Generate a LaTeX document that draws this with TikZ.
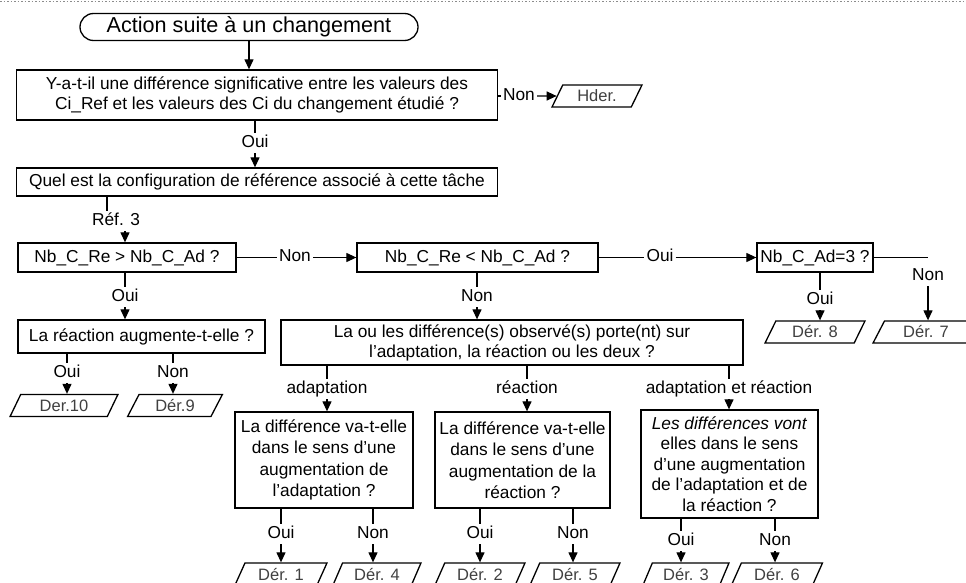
\documentclass[tikz,border=0pt]{standalone}
\usepackage{fontspec}
\setmainfont{Liberation Sans}
\usetikzlibrary{shapes.geometric,arrows.meta}
\begin{document}
\begin{tikzpicture}[x=1pt,y=-1pt,
  box/.style={draw, line width=1.3pt, inner sep=0pt, align=center, font=\fontsize{17.3}{20}\selectfont},
  lbl/.style={inner sep=2pt, text height=12.5pt, text depth=3.7pt, font=\fontsize{17.3}{20}\selectfont},
  outp/.style={draw, trapezium, trapezium left angle=63, trapezium right angle=117, trapezium stretches=true, line width=1.3pt, inner sep=0pt, minimum height=22pt, font=\fontsize{16.5}{18}\selectfont, text=black!75},
  ln/.style={line width=1.2pt},
  arr/.style={line width=1.2pt, -{Triangle[length=10pt,width=9pt]}}]
\useasboundingbox (0,0) rectangle (966,583);
\draw[black!45, dotted, line width=1.5pt] (0,1.5) -- (966,1.5);

% nodes
\node[draw, rounded corners=13.5pt, line width=1.3pt, minimum width=338pt, minimum height=27pt, inner sep=0pt, font=\fontsize{21.6}{24}\selectfont] (start) at (249,27) {Action suite à un changement};
\node[box, minimum width=481pt, minimum height=50pt] (b1) at (257,95) {Y-a-t-il une différence significative entre les valeurs des\\Ci\_Ref et les valeurs des Ci du changement étudié ?};
\node[lbl] (nonh) at (519,96) {Non};
\node[outp, minimum width=90pt] (hder) at (597,96) {Hder.};
\node[lbl] (oui1) at (255,143) {Oui};
\node[box, minimum width=481pt, minimum height=28pt] (b2) at (257,182) {Quel est la configuration de référence associé à cette tâche};
\node[lbl] (ref) at (116,221) {Réf. 3};
\node[box, minimum width=218pt, minimum height=29pt] (nb1) at (127,257.5) {Nb\_C\_Re > Nb\_C\_Ad ?};
\node[lbl] (non2) at (295,257.5) {Non};
\node[box, minimum width=241pt, minimum height=29pt] (nb2) at (477.5,257.5) {Nb\_C\_Re < Nb\_C\_Ad ?};
\node[lbl] (oui3) at (660,257.5) {Oui};
\node[box, minimum width=116pt, minimum height=29pt] (nb3) at (815,257.5) {Nb\_C\_Ad=3 ?};
\coordinate (c7) at (928,257.5);
\node[lbl] (non4) at (928,276) {Non};
\node[outp, minimum width=106pt] (der7) at (926,332) {Dér. 7};
\node[lbl] (oui5) at (820,300) {Oui};
\node[outp, minimum width=100pt] (der8) at (815,332) {Dér. 8};
\node[lbl] (oui6) at (125,297) {Oui};
\node[box, minimum width=247pt, minimum height=33pt] (reac) at (141.5,336.5) {La réaction augmente-t-elle ?};
\node[lbl] (non7) at (477,297) {Non};
\node[box, minimum width=462pt, minimum height=45pt] (laou) at (512,342.5) {La ou les différence(s) observé(s) porte(nt) sur\\l'adaptation, la réaction ou les deux ?};
\node[lbl] (oui8) at (67,373) {Oui};
\node[lbl] (non9) at (173,373) {Non};
\node[outp, minimum width=108pt] (der10) at (64,405.5) {Der.10};
\node[outp, minimum width=95pt] (der9) at (175,405.5) {Dér.9};
\node[lbl] (la) at (327,389) {adaptation};
\node[lbl] (lb) at (527,389) {réaction};
\node[lbl] (lc) at (729,389) {adaptation et réaction};
\node[box, minimum width=178pt, minimum height=96pt, font=\fontsize{17.3}{21.5}\selectfont] (bxa) at (324,460) {La différence va-t-elle\\dans le sens d'une\\augmentation de\\l'adaptation ?};
\node[box, minimum width=175pt, minimum height=96pt, font=\fontsize{17.3}{21.5}\selectfont] (bxb) at (522.5,460) {La différence va-t-elle\\dans le sens d'une\\augmentation de la\\réaction ?};
\node[box, minimum width=177pt, minimum height=108pt, font=\fontsize{17.3}{20.5}\selectfont] (bxc) at (729.5,464) {\textit{Les différences vont}\\elles dans le sens\\d'une augmentation\\de l'adaptation et de\\la réaction ?};
\node[lbl] (ouia) at (281,534) {Oui};
\node[lbl] (nona) at (373,534) {Non};
\node[lbl] (ouib) at (480,534) {Oui};
\node[lbl] (nonb) at (573,534) {Non};
\node[lbl] (ouic) at (681,541) {Oui};
\node[lbl] (nonc) at (775,541) {Non};
\node[outp, minimum width=92pt] (der1) at (281,574) {Dér. 1};
\node[outp, minimum width=88pt] (der4) at (377,574) {Dér. 4};
\node[outp, minimum width=90pt] (der2) at (480,574) {Dér. 2};
\node[outp, minimum width=90pt] (der5) at (575,574) {Dér. 5};
\node[outp, minimum width=86pt] (der3) at (686,574) {Dér. 3};
\node[outp, minimum width=91pt] (der6) at (777,574) {Dér. 6};

% connectors
\draw[arr] (start.south) -- (start.south |- b1.north);
\draw[ln] (b1.east |- nonh.west) -- (nonh.west);
\draw[arr] (nonh.east) -- (hder.west);
\draw[ln] (b1.south -| oui1) -- (oui1.north);
\draw[arr] (oui1.south) -- (oui1.south |- b2.north);
\draw[ln] ([xshift=-9pt]ref.north |- b2.south) -- ([xshift=-9pt]ref.north);
\draw[arr] ([xshift=9pt]ref.south) -- ([xshift=9pt]ref.south |- nb1.north);
\draw[ln] (nb1.east) -- (non2.west);
\draw[arr] (non2.east) -- (nb2.west);
\draw[ln] (nb2.east) -- (oui3.west);
\draw[arr] (oui3.east) -- (nb3.west);
\draw[ln] (nb3.east) -- (c7);
\draw[arr] (non4.south) -- (non4.south |- der7.north);
\draw[ln] (nb3.south -| oui5) -- (oui5.north);
\draw[arr] (oui5.south) -- (oui5.south |- der8.north);
\draw[ln] (nb1.south -| oui6) -- (oui6.north);
\draw[arr] (oui6.south) -- (oui6.south |- reac.north);
\draw[ln] (nb2.south -| non7) -- (non7.north);
\draw[arr] (non7.south) -- (non7.south |- laou.north);
\draw[ln] (reac.south -| oui8) -- (oui8.north);
\draw[arr] (oui8.south) -- (oui8.south |- der10.north);
\draw[ln] (reac.south -| non9) -- (non9.north);
\draw[arr] (non9.south) -- (non9.south |- der9.north);
\draw[ln] (laou.south -| la) -- (la.north);
\draw[arr] (la.south) -- (la.south |- bxa.north);
\draw[ln] (laou.south -| lb) -- (lb.north);
\draw[arr] (lb.south) -- (lb.south |- bxb.north);
\draw[ln] (laou.south -| lc) -- (lc.north);
\draw[arr] (lc.south) -- (lc.south |- bxc.north);
\draw[ln] (bxa.south -| ouia) -- (ouia.north);
\draw[arr] (ouia.south) -- (ouia.south |- der1.north);
\draw[ln] (bxa.south -| nona) -- (nona.north);
\draw[arr] (nona.south) -- (nona.south |- der4.north);
\draw[ln] (bxb.south -| ouib) -- (ouib.north);
\draw[arr] (ouib.south) -- (ouib.south |- der2.north);
\draw[ln] (bxb.south -| nonb) -- (nonb.north);
\draw[arr] (nonb.south) -- (nonb.south |- der5.north);
\draw[ln] (bxc.south -| ouic) -- (ouic.north);
\draw[arr] (ouic.south) -- (ouic.south |- der3.north);
\draw[ln] (bxc.south -| nonc) -- (nonc.north);
\draw[arr] (nonc.south) -- (nonc.south |- der6.north);
\end{tikzpicture}
\end{document}
